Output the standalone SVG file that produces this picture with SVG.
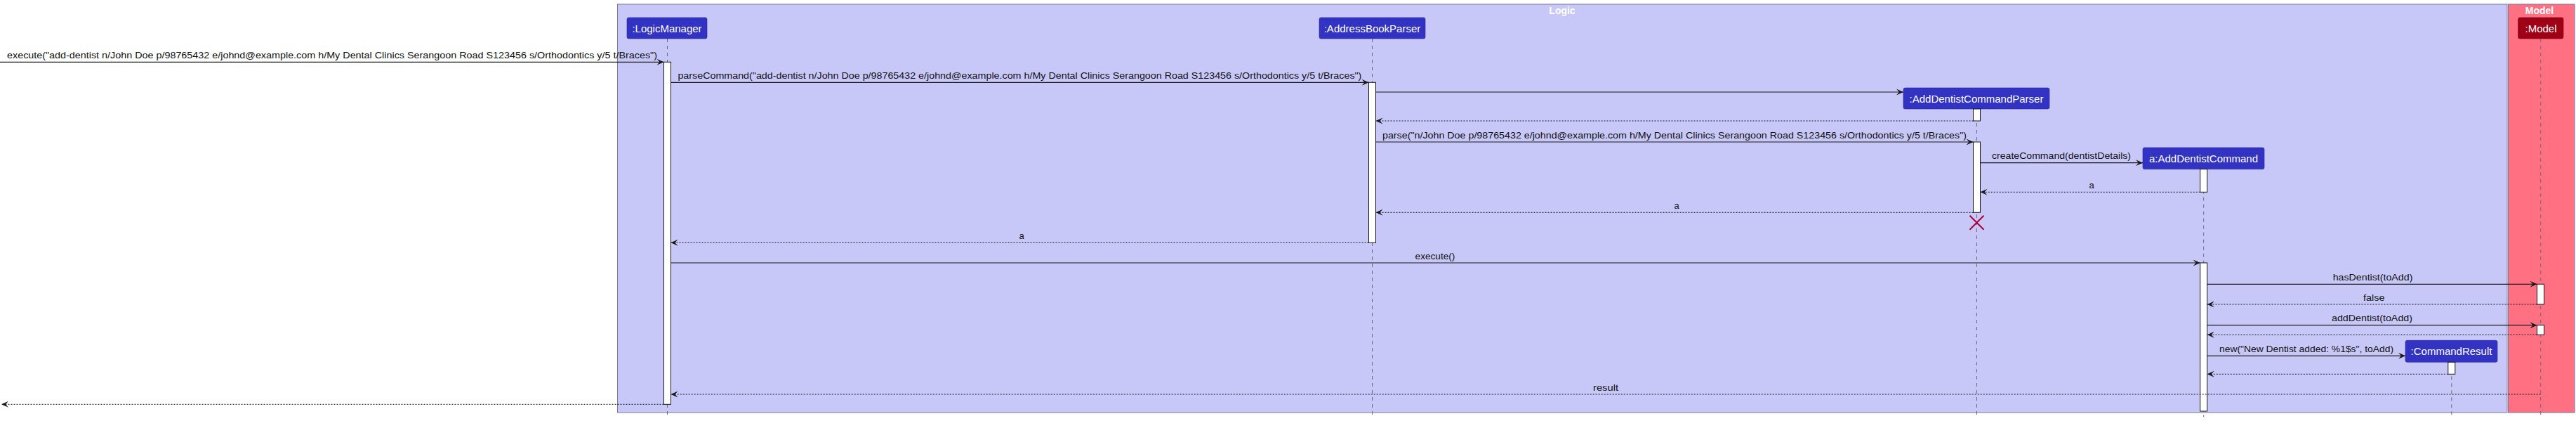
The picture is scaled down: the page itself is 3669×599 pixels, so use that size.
<svg xmlns="http://www.w3.org/2000/svg" width="3669" height="599" viewBox="0 0 3669 599">
<style>
.box{stroke:#7a7a9a;stroke-width:1}
.logic{fill:#c8c8f8}
.model{fill:#fe7082}
.btitle{font-family:"Liberation Sans",Arial,sans-serif;font-weight:bold;font-size:14px;fill:#ffffff;text-anchor:middle}
.head{fill:#3232c3;stroke:#24249a;stroke-width:0.6}
.headm{fill:#a00016;stroke:#700010;stroke-width:0.6}
.htxt{font-family:"Liberation Sans",Arial,sans-serif;font-size:15px;fill:#ffffff;text-anchor:middle}
.life{stroke:#6a6a7a;stroke-width:1;stroke-dasharray:5,5;fill:none}
.act{fill:#ffffff;stroke:#181818;stroke-width:1}
.msg{stroke:#181818;stroke-width:1.2;fill:none;marker-end:url(#ah)}
.ret{stroke:#181818;stroke-width:1;stroke-dasharray:2,2;fill:none;marker-end:url(#ah)}
.lbl{font-family:"Liberation Sans",Arial,sans-serif;font-size:13px;fill:#111111}
.c{text-anchor:middle}
.x{stroke:#a80036;stroke-width:2}
</style>
<defs>
<marker id="ah" markerUnits="userSpaceOnUse" viewBox="-11 -6 12 12" refX="0" refY="0" markerWidth="12" markerHeight="12" orient="auto">
<path d="M0,0 L-10,-4.5 L-6,0 L-10,4.5 Z" fill="#181818"/>
</marker>
</defs>

<g id="box-logic">
<rect class="box logic" x="879.5" y="6" width="2691.5" height="581"/>
<text class="btitle" x="2225" y="20">Logic</text>
</g>
<g id="box-model">
<rect class="box model" x="3572.5" y="6" width="94.5" height="581"/>
<text class="btitle" x="3617" y="20">Model</text>
</g>

<g id="LogicManager">
<line class="life" x1="950.5" y1="55" x2="950.5" y2="593"/>
<rect class="head" x="893" y="25" width="114" height="30" rx="2.5"/>
<text class="htxt" x="950" y="45.5">:LogicManager</text>
<rect class="act" x="945.5" y="88.3" width="10" height="487"/>
</g>

<g id="AddressBookParser">
<line class="life" x1="1954.5" y1="55" x2="1954.5" y2="593"/>
<rect class="head" x="1879" y="25" width="151" height="30" rx="2.5"/>
<text class="htxt" x="1954.5" y="45.5">:AddressBookParser</text>
<rect class="act" x="1949.5" y="117.3" width="10" height="228"/>
</g>

<g id="AddDentistCommandParser">
<line class="life" x1="2815.5" y1="155" x2="2815.5" y2="593"/>
<rect class="head" x="2711" y="125" width="208" height="30" rx="2.5"/>
<text class="htxt" x="2815" y="145.5">:AddDentistCommandParser</text>
<rect class="act" x="2810.5" y="155" width="10" height="17"/>
<rect class="act" x="2810.5" y="202" width="10" height="100.3"/>
<line class="x" x1="2805.5" y1="306.7" x2="2825.5" y2="326.7"/>
<line class="x" x1="2825.5" y1="306.7" x2="2805.5" y2="326.7"/>
</g>

<g id="AddDentistCommand">
<line class="life" x1="3138.7" y1="240.7" x2="3138.7" y2="593"/>
<rect class="head" x="3052" y="210" width="173" height="30.7" rx="2.5"/>
<text class="htxt" x="3138.5" y="230.7">a:AddDentistCommand</text>
<rect class="act" x="3133.7" y="240.7" width="10" height="32.6"/>
<rect class="act" x="3133.7" y="374" width="10" height="211"/>
</g>

<g id="CommandResult">
<line class="life" x1="3491.8" y1="515.3" x2="3491.8" y2="593"/>
<rect class="head" x="3426" y="484.3" width="131" height="31" rx="2.5"/>
<text class="htxt" x="3491.5" y="505">:CommandResult</text>
<rect class="act" x="3486.8" y="515.3" width="10" height="17"/>
</g>

<g id="Model">
<line class="life" x1="3618.7" y1="55" x2="3618.7" y2="593"/>
<rect class="headm" x="3586.6" y="25" width="64.4" height="30" rx="2.5"/>
<text class="htxt" x="3619" y="45.5">:Model</text>
<rect class="act" x="3613.5" y="404.3" width="10" height="28.7"/>
<rect class="act" x="3613.5" y="462.7" width="10" height="13.6"/>
</g>

<g id="connectors">
<line class="msg" x1="0" y1="88.3" x2="945.5" y2="88.3"/>
<text class="lbl" x="10" y="82.8" textLength="926" lengthAdjust="spacingAndGlyphs">execute("add-dentist n/John Doe p/98765432 e/johnd@example.com h/My Dental Clinics Serangoon Road S123456 s/Orthodontics y/5 t/Braces")</text>

<line class="msg" x1="955.5" y1="117.3" x2="1949.5" y2="117.3"/>
<text class="lbl" x="965.4" y="111.8" textLength="974" lengthAdjust="spacingAndGlyphs">parseCommand("add-dentist n/John Doe p/98765432 e/johnd@example.com h/My Dental Clinics Serangoon Road S123456 s/Orthodontics y/5 t/Braces")</text>

<line class="msg" x1="1959.5" y1="131" x2="2711" y2="131"/>

<line class="ret" x1="2810.5" y1="172" x2="1959.5" y2="172"/>

<line class="msg" x1="1959.5" y1="202" x2="2810.5" y2="202"/>
<text class="lbl" x="1969" y="196.5" textLength="832" lengthAdjust="spacingAndGlyphs">parse("n/John Doe p/98765432 e/johnd@example.com h/My Dental Clinics Serangoon Road S123456 s/Orthodontics y/5 t/Braces")</text>

<line class="msg" x1="2820.5" y1="231.7" x2="3052" y2="231.7"/>
<text class="lbl" x="2837" y="226.2" textLength="198" lengthAdjust="spacingAndGlyphs">createCommand(dentistDetails)</text>

<line class="ret" x1="3133.7" y1="273.3" x2="2820.5" y2="273.3"/>
<text class="lbl c" x="2979" y="267.8">a</text>

<line class="ret" x1="2810.5" y1="302.3" x2="1959.5" y2="302.3"/>
<text class="lbl c" x="2388" y="296.8">a</text>

<line class="ret" x1="1949.5" y1="345.3" x2="955.5" y2="345.3"/>
<text class="lbl c" x="1455" y="339.8">a</text>

<line class="msg" x1="955.5" y1="374" x2="3133.7" y2="374"/>
<text class="lbl" x="2015.6" y="368.5" textLength="56.8" lengthAdjust="spacingAndGlyphs">execute()</text>

<line class="msg" x1="3143.7" y1="404.3" x2="3613.5" y2="404.3"/>
<text class="lbl" x="3322.7" y="398.8" textLength="113.7" lengthAdjust="spacingAndGlyphs">hasDentist(toAdd)</text>

<line class="ret" x1="3613.5" y1="433" x2="3143.7" y2="433"/>
<text class="lbl" x="3366" y="427.5" textLength="30.5" lengthAdjust="spacingAndGlyphs">false</text>

<line class="msg" x1="3143.7" y1="462.7" x2="3613.5" y2="462.7"/>
<text class="lbl" x="3321" y="457.2" textLength="115" lengthAdjust="spacingAndGlyphs">addDentist(toAdd)</text>

<line class="ret" x1="3613.5" y1="476.3" x2="3143.7" y2="476.3"/>

<line class="msg" x1="3143.7" y1="506.3" x2="3426" y2="506.3"/>
<text class="lbl" x="3161" y="500.8" textLength="248" lengthAdjust="spacingAndGlyphs">new("New Dentist added: %1$s", toAdd)</text>

<line class="ret" x1="3486.8" y1="532.3" x2="3143.7" y2="532.3"/>

<line class="ret" x1="3618.7" y1="561" x2="955.5" y2="561"/>
<text class="lbl" x="2269" y="555.5" textLength="36" lengthAdjust="spacingAndGlyphs">result</text>

<line class="ret" x1="945.5" y1="575.3" x2="2" y2="575.3"/>
</g>
</svg>
